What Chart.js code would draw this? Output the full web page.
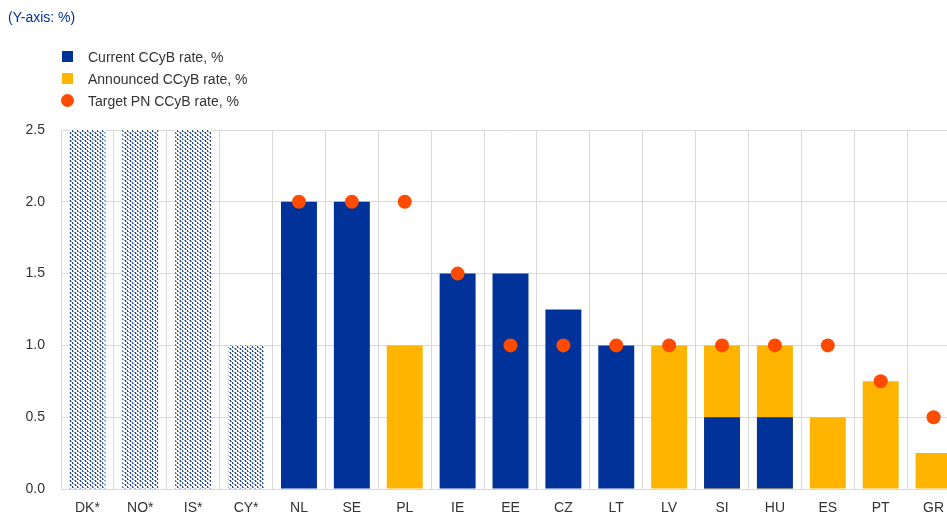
<!DOCTYPE html>
<html>
<head>
<meta charset="utf-8">
<script src="https://cdn.jsdelivr.net/npm/chart.js@4.4.1/dist/chart.umd.min.js"></script>
<style>
  body { margin: 0; background: #fff; overflow: hidden; font-family: "Liberation Sans", Arial, sans-serif; }
  #wrap { position: relative; width: 947px; height: 514px; overflow: hidden; }
  #chart { position: absolute; left: 0; top: 0; }
  .axis-note { position: absolute; left: 8px; top: 9px; font-size: 14px; color: #003299; }
  .legend { position: absolute; left: 62px; top: 46px; font-size: 14px; color: #333; }
  .legend div { position: relative; height: 22px; line-height: 22px; padding-left: 26px; }
  .legend span { position: absolute; left: 0; top: 5px; width: 11px; height: 11px; }
  .legend .dot { border-radius: 50%; width: 13px; height: 13px; left: -1px; top: 4px; }
</style>
</head>
<body>
<div id="wrap">
  <canvas id="chart" width="967" height="514"></canvas>
  <div class="axis-note">(Y-axis: %)</div>
  <div class="legend">
    <div><span style="background:#003299"></span>Current CCyB rate, %</div>
    <div><span style="background:#FFB400"></span>Announced CCyB rate, %</div>
    <div><span class="dot" style="background:#FF4B00"></span>Target PN CCyB rate, %</div>
  </div>
</div>
<script>
// --- data
const countries = ["DK*", "NO*", "IS*", "CY*", "NL", "SE", "PL", "IE", "EE", "CZ", "LT", "LV", "SI", "HU", "ES", "PT", "GR"];
const outsideRates = [2.5, 2.5, 2.5, 1.0, null, null, null, null, null, null, null, null, null, null, null, null, null];
const currentRates = [null, null, null, null, 2.0, 2.0, null, 1.5, 1.5, 1.25, 1.0, null, 0.5, 0.5, null, null, null];
const announcedRates = [null, null, null, null, null, null, 1.0, null, null, null, null, 1.0, 1.0, 1.0, 0.5, 0.75, 0.25];
const targetRates = [null, null, null, null, 2.0, 2.0, 2.0, 1.5, 1.0, 1.0, 1.0, 1.0, 1.0, 1.0, 1.0, 0.75, 0.5];
const yTicks = [0, 0.5, 1.0, 1.5, 2.0, 2.5];

const BLUE = "#003299";
const YELLOW = "#FFB400";
const ORANGE = "#FF4B00";

// dotted fill for the countries shown with a pattern
function makeDots() {
  const c = document.createElement("canvas");
  c.width = 5; c.height = 4;
  const g = c.getContext("2d");
  g.fillStyle = "#ffffff";
  g.fillRect(0, 0, 5, 4);
  g.fillStyle = "#1f4aa8";
  g.fillRect(0, 0, 1, 2);
  g.fillRect(2, 2, 1, 2);
  g.fillStyle = "#7d97d2";
  g.fillRect(1, 1, 1, 1);
  g.fillRect(3, 3, 1, 1);
  g.fillRect(4, 0, 1, 1);
  return document.getElementById("chart").getContext("2d").createPattern(c, "repeat");
}

const ctx = document.getElementById("chart").getContext("2d");
new Chart(ctx, {
  type: "bar",
  data: {
    labels: countries,
    datasets: [
      {
        type: "line",
        label: "Target PN CCyB rate, %",
        data: targetRates,
        showLine: false,
        pointRadius: 7,
        pointHoverRadius: 7,
        pointBackgroundColor: ORANGE,
        pointBorderWidth: 0,
        order: 0
      },
      {
        label: "Current CCyB rate, %",
        data: currentRates,
        backgroundColor: BLUE,
        grouped: false,
        barPercentage: 0.68,
        categoryPercentage: 1,
        order: 1
      },
      {
        label: "Announced CCyB rate, %",
        data: announcedRates,
        backgroundColor: YELLOW,
        grouped: false,
        barPercentage: 0.68,
        categoryPercentage: 1,
        order: 2
      },
      {
        label: "outside",
        data: outsideRates,
        backgroundColor: makeDots(),
        grouped: false,
        barPercentage: 0.68,
        categoryPercentage: 1,
        order: 3
      }
    ]
  },
  options: {
    responsive: false,
    animation: false,
    layout: { padding: { top: 130, left: 0, right: 2, bottom: 0 } },
    plugins: {
      legend: { display: false },
      tooltip: { enabled: false },
      title: { display: false }
    },
    scales: {
      x: {
        grid: { color: "#d9d9d9", lineWidth: 1, drawTicks: false, offset: true },
        border: { color: "#d9d9d9" },
        ticks: {
          color: "#333",
          padding: 11,
          maxRotation: 0,
          autoSkip: false,
          font: { family: "Liberation Sans, Arial", size: 14 }
        },
        afterFit(scale) { scale.height = 25; }
      },
      y: {
        min: 0,
        max: 2.5,
        afterBuildTicks(scale) { scale.ticks = yTicks.map(v => ({ value: v })); },
        grid: { color: "#d9d9d9", lineWidth: 1, drawTicks: false },
        border: { display: false },
        ticks: {
          color: "#333",
          padding: 16,
          callback: v => Number(v).toFixed(1),
          font: { family: "Liberation Sans, Arial", size: 14 }
        },
        afterFit(scale) { scale.width = 61; }
      }
    }
  }
});
</script>
</body>
</html>
